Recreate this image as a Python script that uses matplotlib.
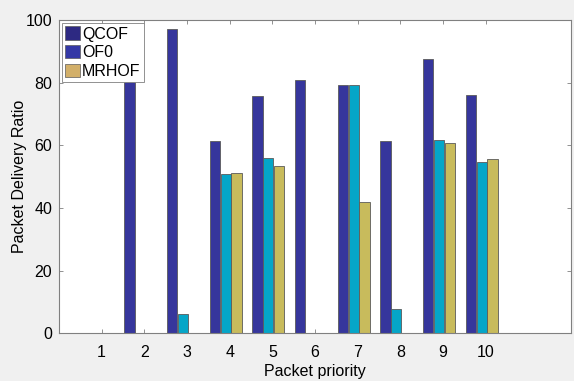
import numpy as np
import matplotlib
matplotlib.use("Agg")
import matplotlib.pyplot as plt
from matplotlib.patches import Patch

priorities = [1, 2, 3, 4, 5, 6, 7, 8, 9, 10]
qcof = [0, 85, 97.2, 61.4, 75.9, 81.0, 79.4, 61.5, 87.5, 76.2]
of0 = [0, 0, 6.1, 50.9, 56.1, 0, 79.4, 7.7, 61.8, 54.7]
mrhof = [0, 0, 0, 51.3, 53.5, 0, 41.9, 0, 60.8, 55.8]
series_names = ["QCOF", "OF0", "MRHOF"]

bar_colors = ["#36369c", "#05a6c8", "#c8bb5c"]
legend_colors = ["#2d2982", "#3438a6", "#d2af69"]
offsets = [-0.35, -0.095, 0.16]

plt.rcParams["font.family"] = ["Liberation Sans", "DejaVu Sans"]

fig = plt.figure(figsize=(5.74, 3.81), dpi=100, facecolor="#f0f0f0")
ax = fig.add_axes([0.1028, 0.1247, 0.892, 0.8228])

x = np.array(priorities, dtype=float)
for vals, color, off in zip([qcof, of0, mrhof], bar_colors, offsets):
    ax.bar(x + off, vals, width=0.24, color=color,
           edgecolor="#5a5a5a", linewidth=0.6, zorder=2)

ax.set_xlim(0, 12)
ax.set_ylim(0, 100)
ax.set_xticks(priorities)
ax.set_yticks([0, 20, 40, 60, 80, 100])
ax.tick_params(direction="in", length=3, width=0.6, color="#808080",
               labelsize=11.5, top=True, right=True)
ax.tick_params(axis="x", pad=8)
ax.tick_params(axis="y", pad=5)
for s in ax.spines.values():
    s.set_color("#808080")
    s.set_linewidth(0.8)

ax.set_xlabel("Packet priority", fontsize=11.5, labelpad=3)
ax.set_ylabel("Packet Delivery Ratio", fontsize=11.5)
ax.yaxis.set_label_coords(-0.062, 0.5)

handles = [Patch(facecolor=c, edgecolor="#5a5a5a", linewidth=0.5)
           for c in legend_colors]
leg = ax.legend(handles, series_names, loc="upper left", fontsize=11.5,
                handlelength=0.9, handleheight=0.9, handletextpad=0.15,
                labelspacing=0.22, borderpad=0.2, borderaxespad=0.2,
                fancybox=False, framealpha=1)
leg.get_frame().set_edgecolor("#808080")
leg.get_frame().set_linewidth(0.6)
leg.set_zorder(5)

fig.savefig("out.png", dpi=100, facecolor=fig.get_facecolor())
